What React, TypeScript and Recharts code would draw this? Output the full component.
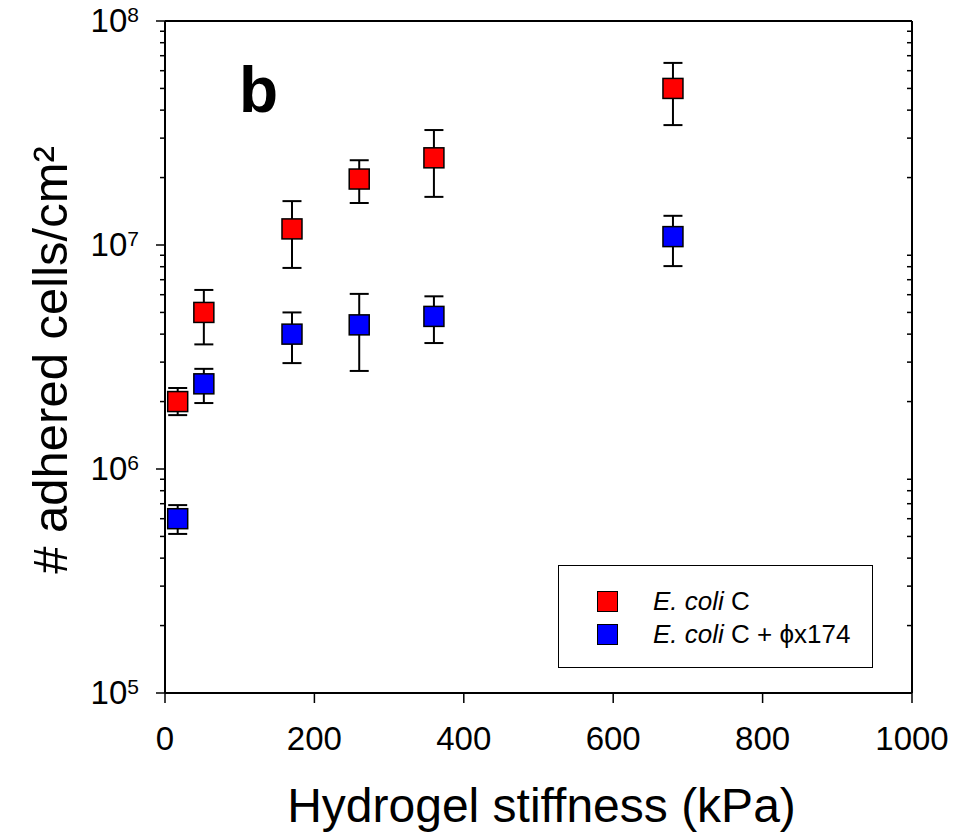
import React from "react";
import { ScatterChart, Scatter, XAxis, YAxis, ErrorBar, Legend } from "recharts";

const FONT = "'Liberation Sans', Arial, Helvetica, sans-serif";

// stiffness of each hydrogel (kPa)
const stiffness = [17, 52, 170, 260, 360, 680];

// E. coli C alone
const ecoliMean = [2.0e6, 5.0e6, 1.18e7, 1.97e7, 2.45e7, 5.0e7];
const ecoliLow = [1.74e6, 3.6e6, 7.9e6, 1.54e7, 1.64e7, 3.43e7];
const ecoliHigh = [2.3e6, 6.3e6, 1.57e7, 2.39e7, 3.26e7, 6.5e7];

// E. coli C + phiX174
const phageMean = [6.0e5, 2.4e6, 4.0e6, 4.4e6, 4.8e6, 1.09e7];
const phageLow = [5.13e5, 1.97e6, 2.97e6, 2.74e6, 3.65e6, 8.05e6];
const phageHigh = [6.9e5, 2.8e6, 5.0e6, 6.05e6, 5.9e6, 1.35e7];

const seriesNames = ["E. coli C", "E. coli C + ϕx174"];
const seriesColors = ["#ff0000", "#0000ff"];

const xTicks = [0, 200, 400, 600, 800, 1000];
const decades = [1e5, 1e6, 1e7, 1e8];
const minorSteps = [1, 2, 3, 4, 5, 6, 7, 8, 9];
const yTicks = decades.flatMap((d, i) =>
  i < decades.length - 1 ? minorSteps.map((k) => k * d) : [d]
);

const toRows = (mean: number[], low: number[], high: number[]) =>
  stiffness.map((x, i) => ({
    x,
    y: mean[i],
    err: [mean[i] - low[i], high[i] - mean[i]],
  }));

const ecoliRows = toRows(ecoliMean, ecoliLow, ecoliHigh);
const phageRows = toRows(phageMean, phageLow, phageHigh);

const isMajor = (v: number) => {
  const e = Math.round(Math.log10(v));
  return Math.abs(v - Math.pow(10, e)) < v * 1e-6;
};

function LeftTick(props: any) {
  const { x, y, payload } = props;
  const v = payload.value;
  const major = isMajor(v);
  return (
    <g>
      <line x1={x} x2={x - (major ? 9 : 5)} y1={y} y2={y} stroke="#000" strokeWidth={1.5} />
      {major && (
        <text x={x - 26} y={y + 11} textAnchor="end" fontFamily={FONT} fontSize={33} fill="#000">
          10
          <tspan fontSize={21} dy={-10}>
            {Math.round(Math.log10(v))}
          </tspan>
        </text>
      )}
    </g>
  );
}

function RightTick(props: any) {
  const { x, y, payload } = props;
  if (isMajor(payload.value)) return <g />;
  return <line x1={x} x2={x - 5} y1={y} y2={y} stroke="#000" strokeWidth={1.5} />;
}

function BottomTick(props: any) {
  const { x, y, payload } = props;
  return (
    <g>
      <line x1={x} x2={x} y1={y} y2={y + 10} stroke="#000" strokeWidth={1.5} />
      <text x={x} y={y + 57} textAnchor="middle" fontFamily={FONT} fontSize={33} fill="#000">
        {payload.value}
      </text>
    </g>
  );
}

function Square(props: any) {
  const { cx, cy, fill } = props;
  return (
    <rect x={cx - 10} y={cy - 10} width={20} height={20} fill={fill} stroke="#000" strokeWidth={1.5} />
  );
}

function XTitle(props: any) {
  const vb = props.viewBox || { x: 165, y: 693, width: 747 };
  return (
    <text x={vb.x + vb.width / 2 + 3} y={vb.y + 129} textAnchor="middle" fontFamily={FONT} fontSize={48} fill="#000">
      Hydrogel stiffness (kPa)
    </text>
  );
}

function YTitle(props: any) {
  const vb = props.viewBox || { x: 164, y: 21, height: 672 };
  const tx = vb.x - 97;
  const ty = vb.y + vb.height / 2 + 3;
  return (
    <text
      x={tx}
      y={ty}
      transform={`rotate(-90 ${tx} ${ty})`}
      textAnchor="middle"
      fontFamily={FONT}
      fontSize={49}
      fill="#000"
    >
      # adhered cells/cm²
    </text>
  );
}

function PanelLetter(props: any) {
  const vb = props.viewBox || { x: 165, y: 20 };
  return (
    <text x={vb.x + 74} y={vb.y + 92} fontFamily={FONT} fontSize={64} fontWeight="bold" fill="#000">
      b
    </text>
  );
}

function LegendBox(props: any) {
  const payload = props.payload || [];
  return (
    <div
      style={{
        boxSizing: "border-box",
        width: 315,
        height: 103,
        border: "1.5px solid #000",
        background: "#fff",
        position: "relative",
        fontFamily: FONT,
        fontSize: 26,
        color: "#000",
      }}
    >
      {payload.map((entry: any, i: number) => {
        const name: string = entry.value;
        const rest = name.replace("E. coli", "");
        return (
          <div
            key={name}
            style={{
              position: "absolute",
              left: 38,
              top: 25 + i * 33,
              height: 20,
              display: "flex",
              alignItems: "center",
              whiteSpace: "nowrap",
            }}
          >
            <span
              style={{
                display: "inline-block",
                boxSizing: "border-box",
                width: 21,
                height: 21,
                background: entry.color,
                border: "1.5px solid #000",
                marginRight: 35,
              }}
            />
            <span>
              <i>E. coli</i>
              {rest}
            </span>
          </div>
        );
      })}
    </div>
  );
}

export default function App() {
  return (
    <div style={{ position: "absolute", left: 0, top: 0, background: "#fff" }}>
      <ScatterChart width={964} height={837} margin={{ top: 20, right: 51, bottom: 143, left: 164 }}>
        <XAxis
          dataKey="x"
          type="number"
          domain={[0, 1000]}
          ticks={xTicks}
          interval={0}
          height={1}
          tickSize={0}
          tickMargin={0}
          tickLine={false}
          tick={<BottomTick />}
          axisLine={{ stroke: "#000", strokeWidth: 2 }}
          label={{ content: <XTitle /> }}
        />
        <XAxis
          xAxisId="top"
          orientation="top"
          type="number"
          domain={[0, 1000]}
          height={1}
          tick={false}
          tickLine={false}
          axisLine={{ stroke: "#000", strokeWidth: 2 }}
          label={{ content: <PanelLetter /> }}
        />
        <YAxis
          dataKey="y"
          type="number"
          scale="log"
          domain={[1e5, 1e8]}
          allowDataOverflow
          ticks={yTicks}
          interval={0}
          width={1}
          tickSize={0}
          tickMargin={0}
          tickLine={false}
          tick={<LeftTick />}
          axisLine={{ stroke: "#000", strokeWidth: 2 }}
          label={{ content: <YTitle /> }}
        />
        <YAxis
          yAxisId="right"
          orientation="right"
          type="number"
          scale="log"
          domain={[1e5, 1e8]}
          allowDataOverflow
          ticks={yTicks}
          interval={0}
          width={1}
          tickSize={0}
          tickMargin={0}
          tickLine={false}
          tick={<RightTick />}
          axisLine={{ stroke: "#000", strokeWidth: 2 }}
        />
        <Legend
          layout="horizontal"
          verticalAlign="middle"
          align="center"
          content={<LegendBox />}
          wrapperStyle={{ left: 558, top: 565, width: 315, height: 103 }}
        />
        <Scatter
          name={seriesNames[0]}
          data={ecoliRows}
          fill={seriesColors[0]}
          shape={<Square />}
          isAnimationActive={false}
        >
          <ErrorBar dataKey="err" direction="y" width={9.5} stroke="#000" strokeWidth={2} />
        </Scatter>
        <Scatter
          name={seriesNames[1]}
          data={phageRows}
          fill={seriesColors[1]}
          shape={<Square />}
          isAnimationActive={false}
        >
          <ErrorBar dataKey="err" direction="y" width={9.5} stroke="#000" strokeWidth={2} />
        </Scatter>
      </ScatterChart>
    </div>
  );
}
